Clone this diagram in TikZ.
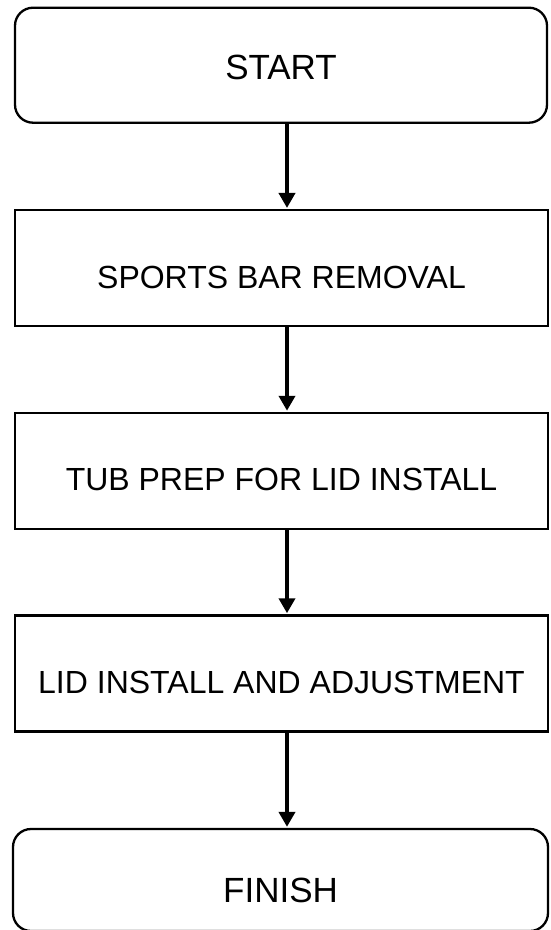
\documentclass[tikz,border=0pt]{standalone}
\usepackage{fontspec}
\setmainfont{Liberation Sans}
\usetikzlibrary{arrows.meta}
\tikzset{
  box/.style={draw=black, line width=2.3pt, fill=white, inner sep=0pt,
    minimum width=533pt, minimum height=116pt, text depth=0pt,
    font=\fontsize{32}{38}\selectfont},
  term/.style={box, rounded corners=18pt, font=\fontsize{35}{41}\selectfont},
  arr/.style={line width=4.6pt, -{Triangle[length=15pt,width=16pt]}, shorten >=1pt}
}
\begin{document}
\begin{tikzpicture}[x=1pt,y=-1pt]
\useasboundingbox (0,0) rectangle (550,930);
\coordinate (ax) at (287,0);
\node[term, minimum width=532pt, minimum height=115pt, text height=28pt] (start) at (281,65.2) {START};
\node[box, text height=40.1pt] (sports) at (281.5,268.1) {SPORTS BAR REMOVAL};
\node[box, text height=40.1pt] (tub) at (281.5,470.9) {TUB PREP FOR LID INSTALL};
\node[box, text height=40.1pt] (lid) at (281.5,673.4) {LID INSTALL AND ADJUSTMENT};
\node[term, minimum width=535pt, minimum height=102pt, text height=45pt] (finish) at (280.5,880) {FINISH};
\draw[arr] (start.south -| ax) -- (sports.north -| ax);
\draw[arr] (sports.south -| ax) -- (tub.north -| ax);
\draw[arr] (tub.south -| ax) -- (lid.north -| ax);
\draw[arr] (lid.south -| ax) -- (finish.north -| ax);
\end{tikzpicture}
\end{document}
